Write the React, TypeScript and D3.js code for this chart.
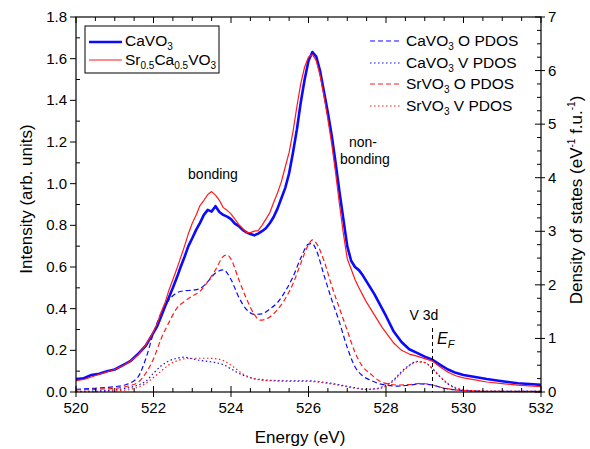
import React from "react";
import * as d3 from "d3";

// ---- data ----
const energyMain = [
  520.0, 520.2, 520.4, 520.6, 520.8, 521.0, 521.2, 521.4, 521.6, 521.8,
  522.0, 522.1, 522.2, 522.3, 522.4, 522.5, 522.6, 522.7, 522.8, 522.9,
  523.0, 523.1, 523.2, 523.3, 523.4, 523.5, 523.6, 523.7, 523.8, 523.9,
  524.0, 524.1, 524.2, 524.3, 524.4, 524.5, 524.6, 524.7, 524.8, 524.9,
  525.0, 525.1, 525.2, 525.3, 525.4, 525.5, 525.6, 525.7, 525.8, 525.9,
  526.0, 526.1, 526.2, 526.3, 526.4, 526.5, 526.6, 526.7, 526.8, 526.9,
  527.0, 527.1, 527.2, 527.3, 527.4, 527.5, 527.6, 527.7, 527.8, 527.9,
  528.0, 528.2, 528.4, 528.6, 528.8, 529.0, 529.2, 529.4, 529.6, 529.8,
  530.0, 530.3, 530.6, 531.0, 531.4, 531.8, 532.0,
];
const caVO3 = [
  0.062, 0.066, 0.082, 0.088, 0.1, 0.108, 0.128, 0.148, 0.182, 0.222,
  0.285, 0.318, 0.365, 0.412, 0.455, 0.5, 0.548, 0.6, 0.648, 0.7,
  0.738, 0.778, 0.812, 0.85, 0.874, 0.866, 0.892, 0.864, 0.85, 0.842,
  0.83, 0.808, 0.796, 0.778, 0.766, 0.758, 0.752, 0.76, 0.772, 0.786,
  0.81, 0.84, 0.88, 0.93, 0.98, 1.05, 1.15, 1.26, 1.39, 1.5,
  1.59, 1.632, 1.61, 1.54, 1.44, 1.34, 1.23, 1.1, 0.96, 0.83,
  0.7, 0.63, 0.6, 0.585, 0.56, 0.53, 0.5, 0.47, 0.435, 0.4,
  0.365, 0.29, 0.24, 0.205, 0.188, 0.17, 0.155, 0.13, 0.108, 0.092,
  0.082, 0.072, 0.062, 0.052, 0.042, 0.037, 0.034,
];
const srCaVO3 = [
  0.055, 0.06, 0.072, 0.085, 0.097, 0.108, 0.125, 0.148, 0.178, 0.225,
  0.29, 0.33, 0.385, 0.43, 0.49, 0.54, 0.59, 0.645, 0.7, 0.76,
  0.81, 0.85, 0.895, 0.92, 0.948, 0.962, 0.945, 0.92, 0.885, 0.872,
  0.855, 0.83, 0.805, 0.785, 0.766, 0.765, 0.772, 0.775, 0.8, 0.83,
  0.86, 0.91, 0.955, 1.01, 1.08, 1.15, 1.25, 1.37, 1.48, 1.56,
  1.608, 1.62, 1.59, 1.52, 1.42, 1.31, 1.19, 1.05, 0.9, 0.76,
  0.64, 0.59, 0.54, 0.5, 0.465, 0.43, 0.4, 0.37, 0.34, 0.31,
  0.285, 0.235, 0.2, 0.182, 0.172, 0.16, 0.148, 0.12, 0.095, 0.078,
  0.068, 0.058, 0.048, 0.04, 0.033, 0.028, 0.026,
];

const energyCaO = [
  520.0, 520.5, 521.0, 521.3, 521.6, 521.8, 522.0, 522.2, 522.4, 522.6,
  522.8, 523.0, 523.2, 523.4, 523.6, 523.8, 524.0, 524.2, 524.4, 524.6,
  524.8, 525.0, 525.2, 525.4, 525.6, 525.8, 526.0, 526.1, 526.2, 526.4,
  526.6, 526.8, 527.0, 527.2, 527.4, 527.6, 527.8, 528.0, 528.3, 528.6,
  528.9, 529.2, 529.5, 529.8, 530.2, 531.0, 532.0,
];
const caVO3_O = [
  0.05, 0.07, 0.1, 0.14, 0.28, 0.62, 1.1, 1.48, 1.72, 1.85,
  1.89, 1.9, 1.93, 2.06, 2.22, 2.28, 2.1, 1.77, 1.54, 1.45,
  1.46, 1.55, 1.67, 1.88, 2.15, 2.5, 2.76, 2.77, 2.65, 2.18,
  1.72, 1.3, 0.83, 0.47, 0.3, 0.22, 0.16, 0.13, 0.11, 0.13,
  0.15, 0.13, 0.07, 0.04, 0.02, 0.01, 0.01,
];

const energySrO = [
  520.0, 520.5, 521.0, 521.4, 521.6, 521.8, 522.0, 522.2, 522.4, 522.6,
  522.8, 523.0, 523.2, 523.4, 523.6, 523.8, 523.9, 524.0, 524.2, 524.4,
  524.6, 524.75, 524.9, 525.0, 525.2, 525.4, 525.6, 525.8, 526.0, 526.1,
  526.2, 526.4, 526.6, 526.8, 527.0, 527.2, 527.4, 527.6, 527.8, 528.0,
  528.3, 528.6, 528.9, 529.2, 529.5, 529.8, 530.2, 531.0, 532.0,
];
const srVO3_O = [
  0.04, 0.05, 0.07, 0.12, 0.18, 0.35, 0.62, 1.0, 1.3, 1.56,
  1.69, 1.79, 1.88, 2.06, 2.28, 2.53, 2.56, 2.48, 2.1, 1.74,
  1.45, 1.34, 1.36, 1.4, 1.54, 1.74, 2.02, 2.4, 2.75, 2.84,
  2.78, 2.45, 1.98, 1.56, 1.15, 0.74, 0.47, 0.34, 0.22, 0.16,
  0.13, 0.14, 0.16, 0.13, 0.07, 0.04, 0.02, 0.01, 0.01,
];

const energyCaV = [
  520.0, 520.6, 521.0, 521.3, 521.6, 521.8, 522.0, 522.2, 522.4, 522.6,
  522.8, 523.0, 523.2, 523.4, 523.6, 523.8, 524.0, 524.2, 524.4, 524.6,
  524.8, 525.0, 525.4, 525.8, 526.0, 526.3, 526.6, 526.9, 527.2, 527.5,
  527.8, 528.0, 528.2, 528.4, 528.6, 528.8, 529.0, 529.2, 529.4, 529.6,
  529.8, 530.1, 530.5, 531.0, 532.0,
];
const caVO3_V = [
  0.01, 0.02, 0.04, 0.07, 0.13, 0.2, 0.35, 0.49, 0.58, 0.63,
  0.65, 0.62, 0.59, 0.57, 0.55, 0.51, 0.43, 0.35, 0.29, 0.25,
  0.23, 0.22, 0.21, 0.21, 0.21, 0.19, 0.16, 0.12, 0.08, 0.05,
  0.07, 0.13, 0.23, 0.38, 0.5, 0.57, 0.55, 0.43, 0.28, 0.15,
  0.07, 0.03, 0.015, 0.01, 0.01,
];

const energySrV = [
  520.0, 520.6, 521.0, 521.4, 521.6, 521.8, 522.0, 522.2, 522.4, 522.6,
  522.8, 523.0, 523.4, 523.7, 523.9, 524.1, 524.3, 524.5, 524.8, 525.0,
  525.5, 526.0, 526.3, 526.6, 526.9, 527.2, 527.5, 527.8, 528.0, 528.2,
  528.4, 528.6, 528.8, 529.0, 529.2, 529.4, 529.6, 529.8, 530.1, 530.5,
  531.0, 532.0,
];
const srVO3_V = [
  0.005, 0.01, 0.02, 0.05, 0.09, 0.16, 0.27, 0.39, 0.51, 0.58,
  0.62, 0.63, 0.63, 0.61, 0.55, 0.45, 0.34, 0.27, 0.22, 0.21,
  0.2, 0.2, 0.18, 0.15, 0.11, 0.07, 0.05, 0.06, 0.11, 0.21,
  0.36, 0.49, 0.56, 0.55, 0.44, 0.29, 0.16, 0.08, 0.03, 0.015,
  0.01, 0.005,
];

const xTicks = [520, 522, 524, 526, 528, 530, 532];
const yLeftTicks = [0, 0.2, 0.4, 0.6, 0.8, 1.0, 1.2, 1.4, 1.6, 1.8];
const yRightTicks = [0, 1, 2, 3, 4, 5, 6, 7];
const fermiEnergy = 529.2;

const BLUE = "#0a0aff";
const RED = "#ff1a1a";
const FONT = "'Liberation Sans', Arial, Helvetica, sans-serif";

export default function App() {
  const W = 590, H = 449;
  const x = d3.scaleLinear().domain([520, 532]).range([76, 541]);
  const yL = d3.scaleLinear().domain([0, 1.8]).range([392, 17]);
  const yR = d3.scaleLinear().domain([0, 7]).range([392, 17]);
  const [x0, x1] = x.range();
  const [yb, yt] = yL.range();

  const mkL = (xs: number[], ys: number[], ys2: d3.ScaleLinear<number, number>, curve = d3.curveLinear) =>
    d3.line<number>().x((_, i) => x(xs[i])).y((d) => ys2(d)).curve(curve)(ys) || "";

  const minorX = d3.range(520, 532.001, 0.5);
  const minorYL = d3.range(0.1, 1.8, 0.2);
  const minorYR = d3.range(0, 7.001, 0.25).filter((v) => Math.abs(v - Math.round(v)) > 0.01);

  const LF = 15.5; // legend font
  const SF = 10; // subscript font
  const SD = 3.5; // subscript shift

  return (
    <svg width={W} height={H} style={{ position: "absolute", left: 0, top: 0, background: "#fff" }} fontFamily={FONT}>
      {/* PDOS curves */}
      <path d={mkL(energyCaO, caVO3_O, yR, d3.curveMonotoneX)} fill="none" stroke={BLUE} strokeWidth={1.2} strokeDasharray="5,3" />
      <path d={mkL(energySrO, srVO3_O, yR, d3.curveMonotoneX)} fill="none" stroke={RED} strokeWidth={1.2} strokeDasharray="5,3" />
      <path d={mkL(energyCaV, caVO3_V, yR, d3.curveMonotoneX)} fill="none" stroke={BLUE} strokeWidth={1.2} strokeDasharray="1.5,2.5" />
      <path d={mkL(energySrV, srVO3_V, yR, d3.curveMonotoneX)} fill="none" stroke={RED} strokeWidth={1.2} strokeDasharray="1.5,2.5" />
      {/* spectra */}
      <path d={mkL(energyMain, caVO3, yL)} fill="none" stroke={BLUE} strokeWidth={2.6} strokeLinejoin="round" />
      <path d={mkL(energyMain, srCaVO3, yL)} fill="none" stroke={RED} strokeWidth={1.2} strokeLinejoin="round" />

      {/* Fermi level */}
      <line x1={x(fermiEnergy)} x2={x(fermiEnergy)} y1={328} y2={yb} stroke="#000" strokeWidth={1} strokeDasharray="4,3" />

      {/* frame */}
      <rect x={x0} y={yt} width={x1 - x0} height={yb - yt} fill="none" stroke="#000" strokeWidth={1.2} />

      {/* x ticks */}
      {minorX.map((v) => {
        const major = Math.abs(v - Math.round(v / 2) * 2) < 0.01;
        return (
          <g key={"xt" + v}>
            <line x1={x(v)} x2={x(v)} y1={yb + (major ? 5 : 0)} y2={yb - (major ? 6 : 4)} stroke="#000" />
            <line x1={x(v)} x2={x(v)} y1={yt} y2={yt + (major ? 6 : 4)} stroke="#000" />
          </g>
        );
      })}
      {xTicks.map((v) => (
        <text key={"xl" + v} x={x(v)} y={yb + 21} textAnchor="middle" fontSize={15}>{v}</text>
      ))}
      {/* left ticks */}
      {yLeftTicks.map((v) => (
        <g key={"yl" + v}>
          <line x1={x0 - 6} x2={x0} y1={yL(v)} y2={yL(v)} stroke="#000" />
          <text x={x0 - 9} y={yL(v) + 5} textAnchor="end" fontSize={15}>{v.toFixed(1)}</text>
        </g>
      ))}
      {minorYL.map((v) => (
        <line key={"ylm" + v} x1={x0} x2={x0 + 4} y1={yL(v)} y2={yL(v)} stroke="#000" />
      ))}
      {/* right ticks */}
      {yRightTicks.map((v) => (
        <g key={"yr" + v}>
          <line x1={x1 - 6} x2={x1 + 4} y1={yR(v)} y2={yR(v)} stroke="#000" />
          <text x={x1 + 7} y={yR(v) + 5} textAnchor="start" fontSize={15}>{v}</text>
        </g>
      ))}
      {minorYR.map((v) => (
        <line key={"yrm" + v} x1={x1 - 4} x2={x1} y1={yR(v)} y2={yR(v)} stroke="#000" />
      ))}

      {/* axis titles */}
      <text x={300} y={443} textAnchor="middle" fontSize={17}>Energy (eV)</text>
      <text transform="translate(32,199) rotate(-90)" textAnchor="middle" fontSize={17}>Intensity (arb. units)</text>
      <text transform="translate(582,200) rotate(-90)" textAnchor="middle" fontSize={17}>
        Density of states (eV<tspan dy={-7} fontSize={10}>-1</tspan>
        <tspan dy={7}> f.u.</tspan><tspan dy={-7} fontSize={10}>-1</tspan><tspan dy={7}>)</tspan>
      </text>

      {/* annotations */}
      <text x={213} y={179} textAnchor="middle" fontSize={14}>bonding</text>
      <text x={363} y={147} textAnchor="middle" fontSize={14}>non-</text>
      <text x={365} y={164} textAnchor="middle" fontSize={14}>bonding</text>
      <text x={424} y={320} textAnchor="middle" fontSize={14}>V 3d</text>
      <text x={437} y={344} fontSize={16} fontStyle="italic">E<tspan dy={4} fontSize={11}>F</tspan></text>

      {/* left legend */}
      <rect x={85} y={26} width={134} height={47} fill="#fff" stroke="#000" strokeWidth={1} />
      <line x1={89} x2={122} y1={42} y2={42} stroke={BLUE} strokeWidth={2.6} />
      <text x={125} y={46} fontSize={LF}>CaVO<tspan dy={SD} fontSize={SF}>3</tspan></text>
      <line x1={89} x2={122} y1={60} y2={60} stroke={RED} strokeWidth={1.2} />
      <text x={125} y={65} fontSize={LF}>
        Sr<tspan dy={SD} fontSize={SF}>0.5</tspan><tspan dy={-SD}>Ca</tspan><tspan dy={SD} fontSize={SF}>0.5</tspan><tspan dy={-SD}>VO</tspan><tspan dy={SD} fontSize={SF}>3</tspan>
      </text>

      {/* right legend */}
      {[
        { c: BLUE, d: "5,3", a: "CaVO", b: " O PDOS", y: 41 },
        { c: BLUE, d: "1.5,2.5", a: "CaVO", b: " V PDOS", y: 63 },
        { c: RED, d: "5,3", a: "SrVO", b: " O PDOS", y: 84 },
        { c: RED, d: "1.5,2.5", a: "SrVO", b: " V PDOS", y: 106 },
      ].map((e) => (
        <g key={e.a + e.b}>
          <line x1={370} x2={402} y1={e.y} y2={e.y} stroke={e.c} strokeWidth={1.2} strokeDasharray={e.d} />
          <text x={406} y={e.y + 5} fontSize={LF}>
            {e.a}<tspan dy={SD} fontSize={SF}>3</tspan><tspan dy={-SD}>{e.b}</tspan>
          </text>
        </g>
      ))}
    </svg>
  );
}
